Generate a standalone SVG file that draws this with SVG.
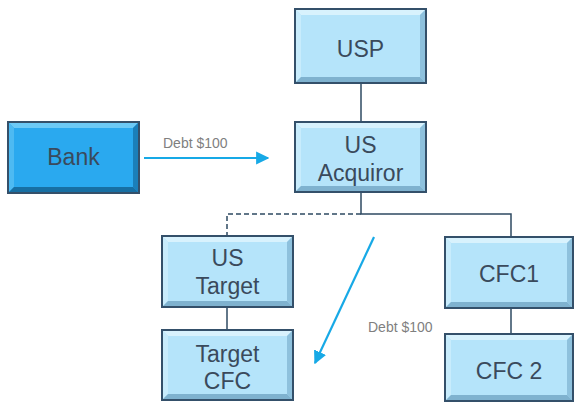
<svg xmlns="http://www.w3.org/2000/svg" width="574" height="402" viewBox="0 0 574 402">
<style>
.fill{fill:#b5e4fa}
.lt{fill:#d8f2fd}
.ll{fill:#c8ecfc}
.dr{fill:#8ec1dd}
.db{fill:#7fb2cf}
.bfill{fill:#2aa9ef}
.blt{fill:#6ccaf6}
.bll{fill:#4dbaf2}
.bdr{fill:#1b7fb9}
.bdb{fill:#176fa3}
.edge{fill:none;stroke:#34506a;stroke-width:2}
.lbl{font-family:"Liberation Sans",Arial,sans-serif;font-size:23px;fill:#3a4a5c;text-anchor:middle}
.debt{font-family:"Liberation Sans",Arial,sans-serif;font-size:14px;fill:#7f7f7f}
.conn{fill:none;stroke:#2e4a62;stroke-width:1.5}
.flow{fill:none;stroke:#17a9e6;stroke-width:2.2}
</style>
<defs>
<marker id="ah" viewBox="0 0 10 10" refX="9" refY="5" markerWidth="6" markerHeight="6" markerUnits="strokeWidth" orient="auto">
<path d="M0,0 L10,5 L0,10 z" fill="#17a9e6"/>
</marker>
</defs>
<rect width="574" height="402" fill="#ffffff"/>
<g id="connectors">
<line class="conn" x1="361" y1="83" x2="361" y2="122"/>
<polyline class="conn" points="361,192 361,214 511,214 511,237"/>
<polyline class="conn" points="361,214 227,214 227,236" stroke-dasharray="5,3"/>
<line class="conn" x1="227" y1="307" x2="227" y2="330"/>
<line class="conn" x1="511" y1="308" x2="511" y2="334"/>
<line class="flow" x1="144" y1="158" x2="268" y2="158" marker-end="url(#ah)"/>
<line class="flow" x1="374" y1="237" x2="315" y2="363" marker-end="url(#ah)"/>
<text class="debt" x="163" y="148">Debt $100</text>
<text class="debt" x="368" y="332">Debt $100</text>
</g>
<g id="bank">
<rect class="bfill" x="8" y="122" width="131" height="71"/>
<polygon class="blt" points="8,122 139,122 133,128 14,128"/>
<polygon class="bll" points="8,122 14,128 14,187 8,193"/>
<polygon class="bdr" points="139,122 139,193 133,187 133,128"/>
<polygon class="bdb" points="8,193 14,187 133,187 139,193"/>
<rect class="edge" x="8" y="122" width="131" height="71"/>
<text class="lbl" x="73.5" y="165">Bank</text>
</g>
<g id="usp">
<rect class="fill" x="295" y="9" width="131" height="74"/>
<polygon class="lt" points="295,9 426,9 420,15 301,15"/>
<polygon class="ll" points="295,9 301,15 301,77 295,83"/>
<polygon class="dr" points="426,9 426,83 420,77 420,15"/>
<polygon class="db" points="295,83 301,77 420,77 426,83"/>
<rect class="edge" x="295" y="9" width="131" height="74"/>
<text class="lbl" x="360.5" y="57">USP</text>
</g>
<g id="us-acquiror">
<rect class="fill" x="295" y="122" width="131" height="70"/>
<polygon class="lt" points="295,122 426,122 420,128 301,128"/>
<polygon class="ll" points="295,122 301,128 301,186 295,192"/>
<polygon class="dr" points="426,122 426,192 420,186 420,128"/>
<polygon class="db" points="295,192 301,186 420,186 426,192"/>
<rect class="edge" x="295" y="122" width="131" height="70"/>
<text class="lbl" x="360.5" y="153">US</text>
<text class="lbl" x="360.5" y="181">Acquiror</text>
</g>
<g id="us-target">
<rect class="fill" x="162" y="236" width="131" height="71"/>
<polygon class="lt" points="162,236 293,236 287,242 168,242"/>
<polygon class="ll" points="162,236 168,242 168,301 162,307"/>
<polygon class="dr" points="293,236 293,307 287,301 287,242"/>
<polygon class="db" points="162,307 168,301 287,301 293,307"/>
<rect class="edge" x="162" y="236" width="131" height="71"/>
<text class="lbl" x="227.5" y="266">US</text>
<text class="lbl" x="227.5" y="294">Target</text>
</g>
<g id="target-cfc">
<rect class="fill" x="162" y="330" width="131" height="70"/>
<polygon class="lt" points="162,330 293,330 287,336 168,336"/>
<polygon class="ll" points="162,330 168,336 168,394 162,400"/>
<polygon class="dr" points="293,330 293,400 287,394 287,336"/>
<polygon class="db" points="162,400 168,394 287,394 293,400"/>
<rect class="edge" x="162" y="330" width="131" height="70"/>
<text class="lbl" x="227.5" y="362">Target</text>
<text class="lbl" x="227.5" y="389">CFC</text>
</g>
<g id="cfc1">
<rect class="fill" x="445" y="237" width="128" height="71"/>
<polygon class="lt" points="445,237 573,237 567,243 451,243"/>
<polygon class="ll" points="445,237 451,243 451,302 445,308"/>
<polygon class="dr" points="573,237 573,308 567,302 567,243"/>
<polygon class="db" points="445,308 451,302 567,302 573,308"/>
<rect class="edge" x="445" y="237" width="128" height="71"/>
<text class="lbl" x="509" y="282">CFC1</text>
</g>
<g id="cfc2">
<rect class="fill" x="445" y="334" width="128" height="67"/>
<polygon class="lt" points="445,334 573,334 567,340 451,340"/>
<polygon class="ll" points="445,334 451,340 451,395 445,401"/>
<polygon class="dr" points="573,334 573,401 567,395 567,340"/>
<polygon class="db" points="445,401 451,395 567,395 573,401"/>
<rect class="edge" x="445" y="334" width="128" height="67"/>
<text class="lbl" x="509" y="379">CFC 2</text>
</g>
</svg>
